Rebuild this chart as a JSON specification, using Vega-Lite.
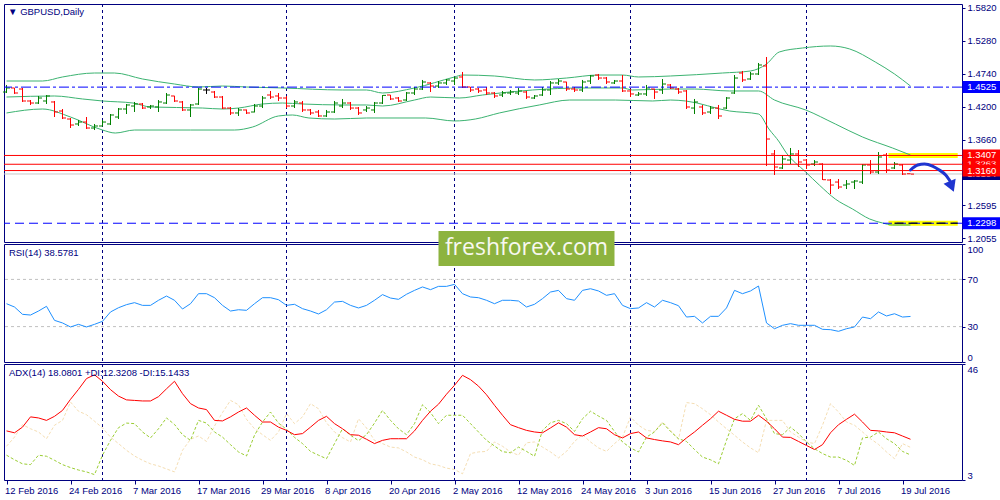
{
  "$schema": "https://vega.github.io/schema/vega-lite/v6.json",
  "description": "GBPUSD daily bars with Bollinger bands, RSI(14) and ADX(14) panels.",
  "background": "#ffffff",
  "padding": {"left": 2, "top": 2, "right": 0, "bottom": 0},
  "bounds": "flush",
  "spacing": 2,
  "config": {
    "font": "Liberation Sans",
    "view": {"stroke": "#000080", "strokeWidth": 1},
    "axis": {"labelFont": "Liberation Sans", "labelFontSize": 9.5, "labelColor": "#000080", "tickColor": "#000080", "domain": false, "grid": false, "labelOverlap": false, "tickCount": 30},
    "axisY": {"tickSize": 3, "labelPadding": 2},
    "axisX": {"tickSize": 4, "labelPadding": 1, "labelAlign": "left", "labelOffset": -2}
  },
  "datasets": {
    "bars": [
      {"i":0,"o":1.4445,"h":1.4560,"l":1.4429,"c":1.4511,"rsi":49.4,"adx":21.2,"pdi":12.2,"mdi":15.5},
      {"i":1,"o":1.4511,"h":1.4515,"l":1.4413,"c":1.4429,"rsi":46.6,"adx":20.5,"pdi":10.5,"mdi":18.9},
      {"i":2,"o":1.4494,"h":1.4511,"l":1.4282,"c":1.4298,"rsi":40.4,"adx":22.6,"pdi":9.0,"mdi":23.5},
      {"i":3,"o":1.4298,"h":1.4314,"l":1.4233,"c":1.4265,"rsi":39.8,"adx":26.4,"pdi":8.7,"mdi":22.0},
      {"i":4,"o":1.4265,"h":1.4380,"l":1.4249,"c":1.4347,"rsi":43.2,"adx":26.0,"pdi":12.2,"mdi":20.8},
      {"i":5,"o":1.4298,"h":1.4396,"l":1.4249,"c":1.4380,"rsi":47.2,"adx":25.1,"pdi":11.8,"mdi":18.3},
      {"i":6,"o":1.4282,"h":1.4298,"l":1.4036,"c":1.4118,"rsi":35.3,"adx":26.6,"pdi":10.3,"mdi":23.3},
      {"i":7,"o":1.4134,"h":1.4167,"l":1.4003,"c":1.4020,"rsi":33.1,"adx":28.8,"pdi":8.7,"mdi":25.1},
      {"i":8,"o":1.4003,"h":1.4020,"l":1.3856,"c":1.3905,"rsi":29.7,"adx":32.9,"pdi":7.6,"mdi":31.9},
      {"i":9,"o":1.3922,"h":1.3987,"l":1.3889,"c":1.3954,"rsi":31.9,"adx":36.6,"pdi":6.7,"mdi":28.5},
      {"i":10,"o":1.3954,"h":1.4036,"l":1.3840,"c":1.3856,"rsi":29.7,"adx":40.6,"pdi":6.0,"mdi":27.2},
      {"i":11,"o":1.3856,"h":1.3922,"l":1.3823,"c":1.3889,"rsi":31.9,"adx":42.0,"pdi":5.0,"mdi":24.8},
      {"i":12,"o":1.3889,"h":1.3987,"l":1.3880,"c":1.3954,"rsi":34.5,"adx":39.6,"pdi":12.2,"mdi":22.3},
      {"i":13,"o":1.3922,"h":1.4085,"l":1.3905,"c":1.4069,"rsi":42.4,"adx":36.5,"pdi":17.7,"mdi":18.9},
      {"i":14,"o":1.4036,"h":1.4183,"l":1.4003,"c":1.4167,"rsi":46.0,"adx":34.1,"pdi":22.4,"mdi":16.5},
      {"i":15,"o":1.4167,"h":1.4249,"l":1.4085,"c":1.4233,"rsi":48.6,"adx":32.7,"pdi":24.1,"mdi":14.0},
      {"i":16,"o":1.4216,"h":1.4282,"l":1.4118,"c":1.4249,"rsi":50.3,"adx":32.5,"pdi":23.9,"mdi":11.9},
      {"i":17,"o":1.4249,"h":1.4265,"l":1.4167,"c":1.4183,"rsi":48.0,"adx":32.3,"pdi":20.8,"mdi":10.3},
      {"i":18,"o":1.4200,"h":1.4233,"l":1.4167,"c":1.4216,"rsi":48.0,"adx":32.3,"pdi":18.6,"mdi":9.0},
      {"i":19,"o":1.4200,"h":1.4314,"l":1.4118,"c":1.4282,"rsi":52.3,"adx":33.9,"pdi":22.0,"mdi":8.2},
      {"i":20,"o":1.4265,"h":1.4429,"l":1.4249,"c":1.4396,"rsi":55.9,"adx":36.8,"pdi":26.0,"mdi":7.1},
      {"i":21,"o":1.4380,"h":1.4385,"l":1.4282,"c":1.4298,"rsi":52.3,"adx":39.6,"pdi":23.6,"mdi":6.0},
      {"i":22,"o":1.4282,"h":1.4298,"l":1.4134,"c":1.4151,"rsi":44.9,"adx":35.0,"pdi":19.8,"mdi":14.0},
      {"i":23,"o":1.4151,"h":1.4249,"l":1.4036,"c":1.4233,"rsi":49.4,"adx":31.3,"pdi":17.7,"mdi":18.1},
      {"i":24,"o":1.4249,"h":1.4511,"l":1.4233,"c":1.4494,"rsi":57.9,"adx":29.7,"pdi":25.1,"mdi":19.3},
      {"i":25,"o":1.4478,"h":1.4511,"l":1.4413,"c":1.4478,"rsi":57.9,"adx":29.1,"pdi":24.1,"mdi":17.3},
      {"i":26,"o":1.4445,"h":1.4462,"l":1.4347,"c":1.4363,"rsi":54.5,"adx":25.1,"pdi":20.8,"mdi":23.0},
      {"i":27,"o":1.4363,"h":1.4380,"l":1.4167,"c":1.4183,"rsi":48.0,"adx":24.9,"pdi":18.9,"mdi":28.0},
      {"i":28,"o":1.4183,"h":1.4200,"l":1.4069,"c":1.4102,"rsi":43.2,"adx":26.4,"pdi":16.1,"mdi":32.5},
      {"i":29,"o":1.4102,"h":1.4183,"l":1.4053,"c":1.4151,"rsi":44.3,"adx":28.2,"pdi":13.4,"mdi":30.9},
      {"i":30,"o":1.4151,"h":1.4160,"l":1.4085,"c":1.4102,"rsi":43.8,"adx":29.7,"pdi":11.9,"mdi":25.5},
      {"i":31,"o":1.4118,"h":1.4249,"l":1.4110,"c":1.4216,"rsi":49.4,"adx":27.0,"pdi":19.6,"mdi":22.0},
      {"i":32,"o":1.4216,"h":1.4380,"l":1.4183,"c":1.4347,"rsi":54.5,"adx":24.5,"pdi":24.5,"mdi":19.8},
      {"i":33,"o":1.4396,"h":1.4462,"l":1.4331,"c":1.4363,"rsi":54.5,"adx":24.5,"pdi":28.2,"mdi":17.7},
      {"i":34,"o":1.4380,"h":1.4429,"l":1.4298,"c":1.4347,"rsi":52.8,"adx":22.6,"pdi":24.1,"mdi":20.8},
      {"i":35,"o":1.4347,"h":1.4380,"l":1.4183,"c":1.4216,"rsi":48.0,"adx":21.4,"pdi":21.8,"mdi":27.6},
      {"i":36,"o":1.4216,"h":1.4314,"l":1.4183,"c":1.4282,"rsi":48.9,"adx":19.8,"pdi":18.8,"mdi":23.9},
      {"i":37,"o":1.4265,"h":1.4298,"l":1.4118,"c":1.4151,"rsi":45.2,"adx":20.2,"pdi":16.5,"mdi":26.4},
      {"i":38,"o":1.4151,"h":1.4167,"l":1.4069,"c":1.4102,"rsi":43.2,"adx":22.6,"pdi":13.6,"mdi":31.3},
      {"i":39,"o":1.4118,"h":1.4151,"l":1.4036,"c":1.4053,"rsi":40.7,"adx":25.1,"pdi":12.2,"mdi":29.4},
      {"i":40,"o":1.4053,"h":1.4151,"l":1.4036,"c":1.4118,"rsi":44.3,"adx":26.6,"pdi":10.9,"mdi":24.2},
      {"i":41,"o":1.4118,"h":1.4298,"l":1.4102,"c":1.4265,"rsi":50.8,"adx":23.9,"pdi":16.5,"mdi":20.8},
      {"i":42,"o":1.4216,"h":1.4331,"l":1.4183,"c":1.4265,"rsi":51.4,"adx":22.0,"pdi":22.0,"mdi":18.7},
      {"i":43,"o":1.4265,"h":1.4282,"l":1.4151,"c":1.4183,"rsi":48.0,"adx":19.8,"pdi":19.6,"mdi":17.1},
      {"i":44,"o":1.4183,"h":1.4200,"l":1.4069,"c":1.4102,"rsi":45.8,"adx":19.6,"pdi":17.6,"mdi":25.7},
      {"i":45,"o":1.4151,"h":1.4216,"l":1.4118,"c":1.4183,"rsi":48.0,"adx":18.1,"pdi":19.8,"mdi":22.3},
      {"i":46,"o":1.4151,"h":1.4282,"l":1.4102,"c":1.4265,"rsi":52.3,"adx":16.5,"pdi":24.1,"mdi":17.7},
      {"i":47,"o":1.4265,"h":1.4396,"l":1.4249,"c":1.4390,"rsi":57.1,"adx":17.7,"pdi":28.8,"mdi":16.5},
      {"i":48,"o":1.4396,"h":1.4400,"l":1.4314,"c":1.4331,"rsi":54.2,"adx":18.3,"pdi":25.1,"mdi":15.2},
      {"i":49,"o":1.4347,"h":1.4363,"l":1.4282,"c":1.4298,"rsi":53.1,"adx":18.3,"pdi":22.0,"mdi":14.9},
      {"i":50,"o":1.4314,"h":1.4445,"l":1.4298,"c":1.4429,"rsi":57.4,"adx":18.3,"pdi":19.8,"mdi":13.4},
      {"i":51,"o":1.4429,"h":1.4527,"l":1.4396,"c":1.4494,"rsi":60.7,"adx":21.2,"pdi":23.9,"mdi":11.5},
      {"i":52,"o":1.4494,"h":1.4642,"l":1.4478,"c":1.4609,"rsi":63.6,"adx":25.1,"pdi":30.9,"mdi":10.5},
      {"i":53,"o":1.4593,"h":1.4609,"l":1.4445,"c":1.4543,"rsi":61.3,"adx":28.5,"pdi":28.0,"mdi":9.0},
      {"i":54,"o":1.4543,"h":1.4625,"l":1.4511,"c":1.4593,"rsi":64.1,"adx":31.1,"pdi":23.9,"mdi":8.4},
      {"i":55,"o":1.4593,"h":1.4658,"l":1.4560,"c":1.4642,"rsi":64.1,"adx":34.8,"pdi":27.0,"mdi":7.4},
      {"i":56,"o":1.4625,"h":1.4691,"l":1.4560,"c":1.4674,"rsi":65.8,"adx":38.1,"pdi":27.0,"mdi":6.9},
      {"i":57,"o":1.4691,"h":1.4773,"l":1.4511,"c":1.4527,"rsi":57.9,"adx":41.8,"pdi":27.0,"mdi":5.3},
      {"i":58,"o":1.4527,"h":1.4530,"l":1.4445,"c":1.4478,"rsi":55.1,"adx":40.2,"pdi":23.9,"mdi":12.8},
      {"i":59,"o":1.4494,"h":1.4511,"l":1.4429,"c":1.4462,"rsi":54.5,"adx":37.8,"pdi":20.8,"mdi":13.4},
      {"i":60,"o":1.4478,"h":1.4527,"l":1.4396,"c":1.4429,"rsi":52.3,"adx":34.6,"pdi":17.7,"mdi":13.6},
      {"i":61,"o":1.4429,"h":1.4445,"l":1.4347,"c":1.4380,"rsi":49.4,"adx":30.7,"pdi":15.6,"mdi":17.1},
      {"i":62,"o":1.4396,"h":1.4462,"l":1.4363,"c":1.4429,"rsi":52.3,"adx":27.0,"pdi":13.5,"mdi":15.5},
      {"i":63,"o":1.4429,"h":1.4478,"l":1.4396,"c":1.4445,"rsi":52.3,"adx":23.5,"pdi":13.1,"mdi":13.4},
      {"i":64,"o":1.4429,"h":1.4511,"l":1.4396,"c":1.4462,"rsi":51.7,"adx":22.4,"pdi":15.2,"mdi":12.2},
      {"i":65,"o":1.4445,"h":1.4462,"l":1.4331,"c":1.4363,"rsi":46.6,"adx":21.4,"pdi":13.6,"mdi":16.8},
      {"i":66,"o":1.4347,"h":1.4396,"l":1.4331,"c":1.4380,"rsi":48.9,"adx":20.8,"pdi":11.8,"mdi":17.1},
      {"i":67,"o":1.4396,"h":1.4527,"l":1.4380,"c":1.4478,"rsi":53.7,"adx":20.5,"pdi":21.4,"mdi":15.2},
      {"i":68,"o":1.4478,"h":1.4625,"l":1.4396,"c":1.4593,"rsi":59.3,"adx":22.3,"pdi":24.2,"mdi":13.4},
      {"i":69,"o":1.4593,"h":1.4658,"l":1.4560,"c":1.4625,"rsi":60.7,"adx":24.2,"pdi":25.1,"mdi":11.2},
      {"i":70,"o":1.4609,"h":1.4615,"l":1.4462,"c":1.4494,"rsi":53.7,"adx":22.6,"pdi":23.9,"mdi":13.6},
      {"i":71,"o":1.4494,"h":1.4527,"l":1.4445,"c":1.4478,"rsi":52.3,"adx":19.8,"pdi":21.0,"mdi":17.3},
      {"i":72,"o":1.4478,"h":1.4642,"l":1.4445,"c":1.4609,"rsi":60.7,"adx":19.3,"pdi":25.7,"mdi":19.8},
      {"i":73,"o":1.4625,"h":1.4723,"l":1.4576,"c":1.4707,"rsi":62.1,"adx":20.8,"pdi":28.5,"mdi":17.1},
      {"i":74,"o":1.4723,"h":1.4740,"l":1.4642,"c":1.4674,"rsi":60.2,"adx":22.4,"pdi":26.7,"mdi":14.9},
      {"i":75,"o":1.4674,"h":1.4691,"l":1.4576,"c":1.4609,"rsi":56.5,"adx":22.0,"pdi":25.1,"mdi":13.6},
      {"i":76,"o":1.4593,"h":1.4642,"l":1.4576,"c":1.4625,"rsi":57.9,"adx":19.8,"pdi":21.0,"mdi":16.5},
      {"i":77,"o":1.4625,"h":1.4723,"l":1.4445,"c":1.4462,"rsi":48.0,"adx":18.6,"pdi":17.1,"mdi":18.9},
      {"i":78,"o":1.4462,"h":1.4494,"l":1.4363,"c":1.4413,"rsi":45.2,"adx":20.2,"pdi":14.9,"mdi":26.4},
      {"i":79,"o":1.4396,"h":1.4445,"l":1.4380,"c":1.4413,"rsi":45.8,"adx":20.8,"pdi":13.4,"mdi":23.3},
      {"i":80,"o":1.4413,"h":1.4560,"l":1.4380,"c":1.4511,"rsi":50.3,"adx":18.6,"pdi":18.9,"mdi":21.4},
      {"i":81,"o":1.4494,"h":1.4500,"l":1.4331,"c":1.4445,"rsi":46.6,"adx":18.0,"pdi":20.8,"mdi":21.0},
      {"i":82,"o":1.4478,"h":1.4658,"l":1.4413,"c":1.4576,"rsi":52.3,"adx":17.5,"pdi":24.2,"mdi":24.5},
      {"i":83,"o":1.4560,"h":1.4576,"l":1.4494,"c":1.4511,"rsi":50.3,"adx":17.1,"pdi":21.0,"mdi":21.4},
      {"i":84,"o":1.4494,"h":1.4511,"l":1.4413,"c":1.4445,"rsi":47.7,"adx":16.1,"pdi":18.3,"mdi":18.1},
      {"i":85,"o":1.4462,"h":1.4478,"l":1.4167,"c":1.4200,"rsi":38.1,"adx":18.6,"pdi":17.3,"mdi":31.7},
      {"i":86,"o":1.4183,"h":1.4331,"l":1.4085,"c":1.4282,"rsi":38.7,"adx":20.8,"pdi":14.3,"mdi":31.3},
      {"i":87,"o":1.4200,"h":1.4233,"l":1.4069,"c":1.4102,"rsi":33.1,"adx":23.3,"pdi":11.5,"mdi":29.4},
      {"i":88,"o":1.4118,"h":1.4216,"l":1.4085,"c":1.4183,"rsi":38.7,"adx":25.7,"pdi":10.5,"mdi":27.2},
      {"i":89,"o":1.4183,"h":1.4233,"l":1.4003,"c":1.4053,"rsi":38.7,"adx":28.5,"pdi":9.0,"mdi":24.5},
      {"i":90,"o":1.4183,"h":1.4363,"l":1.4167,"c":1.4347,"rsi":45.8,"adx":27.0,"pdi":17.7,"mdi":22.0},
      {"i":91,"o":1.4429,"h":1.4723,"l":1.4413,"c":1.4674,"rsi":60.7,"adx":25.5,"pdi":25.7,"mdi":19.6},
      {"i":92,"o":1.4756,"h":1.4789,"l":1.4609,"c":1.4642,"rsi":57.9,"adx":24.8,"pdi":27.6,"mdi":17.1},
      {"i":93,"o":1.4658,"h":1.4773,"l":1.4642,"c":1.4740,"rsi":60.2,"adx":24.8,"pdi":25.1,"mdi":14.9},
      {"i":94,"o":1.4740,"h":1.4920,"l":1.4723,"c":1.4887,"rsi":64.4,"adx":27.0,"pdi":30.7,"mdi":13.1},
      {"i":95,"o":1.4871,"h":1.5018,"l":1.3234,"c":1.3676,"rsi":33.1,"adx":24.8,"pdi":25.7,"mdi":25.1},
      {"i":96,"o":1.3431,"h":1.3496,"l":1.3087,"c":1.3218,"rsi":28.2,"adx":22.0,"pdi":20.2,"mdi":25.1},
      {"i":97,"o":1.3202,"h":1.3414,"l":1.3185,"c":1.3349,"rsi":31.1,"adx":18.9,"pdi":19.8,"mdi":25.1},
      {"i":98,"o":1.3332,"h":1.3529,"l":1.3267,"c":1.3431,"rsi":32.5,"adx":18.8,"pdi":22.6,"mdi":20.8},
      {"i":99,"o":1.3431,"h":1.3496,"l":1.3218,"c":1.3300,"rsi":31.1,"adx":17.3,"pdi":20.2,"mdi":18.9},
      {"i":100,"o":1.3332,"h":1.3349,"l":1.3185,"c":1.3251,"rsi":31.1,"adx":15.8,"pdi":17.1,"mdi":17.1},
      {"i":101,"o":1.3267,"h":1.3332,"l":1.3234,"c":1.3300,"rsi":31.1,"adx":14.3,"pdi":14.6,"mdi":16.5},
      {"i":102,"o":1.3267,"h":1.3280,"l":1.3005,"c":1.3010,"rsi":27.7,"adx":16.1,"pdi":12.8,"mdi":23.3},
      {"i":103,"o":1.3005,"h":1.3022,"l":1.2776,"c":1.2923,"rsi":27.4,"adx":20.5,"pdi":11.5,"mdi":31.3},
      {"i":104,"o":1.2972,"h":1.3022,"l":1.2858,"c":1.2891,"rsi":26.0,"adx":23.5,"pdi":11.5,"mdi":28.2},
      {"i":105,"o":1.2923,"h":1.3005,"l":1.2858,"c":1.2940,"rsi":28.2,"adx":25.5,"pdi":10.3,"mdi":24.5},
      {"i":106,"o":1.2972,"h":1.3005,"l":1.2858,"c":1.2989,"rsi":29.7,"adx":27.4,"pdi":8.4,"mdi":23.3},
      {"i":107,"o":1.2972,"h":1.3267,"l":1.2940,"c":1.3251,"rsi":38.1,"adx":24.5,"pdi":18.6,"mdi":20.8},
      {"i":108,"o":1.3251,"h":1.3332,"l":1.3103,"c":1.3136,"rsi":36.7,"adx":21.4,"pdi":18.9,"mdi":18.3},
      {"i":109,"o":1.3136,"h":1.3463,"l":1.3103,"c":1.3382,"rsi":42.4,"adx":21.2,"pdi":20.8,"mdi":16.2},
      {"i":110,"o":1.3414,"h":1.3447,"l":1.3120,"c":1.3169,"rsi":39.0,"adx":20.8,"pdi":18.3,"mdi":13.4},
      {"i":111,"o":1.3202,"h":1.3300,"l":1.3185,"c":1.3267,"rsi":40.9,"adx":20.5,"pdi":16.5,"mdi":10.9},
      {"i":112,"o":1.3251,"h":1.3267,"l":1.3087,"c":1.3103,"rsi":38.1,"adx":19.3,"pdi":13.6,"mdi":16.5},
      {"i":113,"o":1.3108,"h":1.3112,"l":1.3100,"c":1.3102,"rsi":38.6,"adx":18.1,"pdi":12.3,"mdi":15.1}
    ],
    "bands": [
      {"band":"upper","i":0,"p":1.4625},{"band":"upper","i":4.5,"p":1.4625},{"band":"upper","i":7,"p":1.4691},{"band":"upper","i":11,"p":1.4756},{"band":"upper","i":13.5,"p":1.4756},{"band":"upper","i":17,"p":1.4658},{"band":"upper","i":21,"p":1.4576},{"band":"upper","i":24,"p":1.4527},{"band":"upper","i":27,"p":1.4543},{"band":"upper","i":30,"p":1.4527},{"band":"upper","i":34.5,"p":1.4511},{"band":"upper","i":42,"p":1.4478},{"band":"upper","i":45,"p":1.4478},{"band":"upper","i":47,"p":1.4429},{"band":"upper","i":51,"p":1.4511},{"band":"upper","i":56,"p":1.4691},{"band":"upper","i":57,"p":1.4723},{"band":"upper","i":61,"p":1.4707},{"band":"upper","i":66,"p":1.4642},{"band":"upper","i":70,"p":1.4674},{"band":"upper","i":74,"p":1.4723},{"band":"upper","i":77,"p":1.4723},{"band":"upper","i":79,"p":1.4691},{"band":"upper","i":83,"p":1.4707},{"band":"upper","i":89.5,"p":1.4756},{"band":"upper","i":93,"p":1.4789},{"band":"upper","i":95,"p":1.4903},{"band":"upper","i":96.6,"p":1.5100},{"band":"upper","i":99.5,"p":1.5165},{"band":"upper","i":103,"p":1.5198},{"band":"upper","i":105.4,"p":1.5149},{"band":"upper","i":108.6,"p":1.4936},{"band":"upper","i":111,"p":1.4740},{"band":"upper","i":113,"p":1.4543},
      {"band":"middle","i":0,"p":1.4363},{"band":"middle","i":6,"p":1.4380},{"band":"middle","i":9.5,"p":1.4331},{"band":"middle","i":12,"p":1.4298},{"band":"middle","i":15.8,"p":1.4265},{"band":"middle","i":18,"p":1.4200},{"band":"middle","i":24.5,"p":1.4183},{"band":"middle","i":27,"p":1.4167},{"band":"middle","i":29,"p":1.4183},{"band":"middle","i":32,"p":1.4249},{"band":"middle","i":34.5,"p":1.4265},{"band":"middle","i":37,"p":1.4249},{"band":"middle","i":42,"p":1.4233},{"band":"middle","i":45,"p":1.4233},{"band":"middle","i":47,"p":1.4216},{"band":"middle","i":51,"p":1.4314},{"band":"middle","i":53,"p":1.4363},{"band":"middle","i":56.6,"p":1.4347},{"band":"middle","i":59.5,"p":1.4396},{"band":"middle","i":65.75,"p":1.4478},{"band":"middle","i":72,"p":1.4511},{"band":"middle","i":77,"p":1.4511},{"band":"middle","i":78.25,"p":1.4478},{"band":"middle","i":83,"p":1.4494},{"band":"middle","i":86,"p":1.4494},{"band":"middle","i":90.4,"p":1.4462},{"band":"middle","i":94,"p":1.4462},{"band":"middle","i":96,"p":1.4314},{"band":"middle","i":99.9,"p":1.4151},{"band":"middle","i":103.6,"p":1.3922},{"band":"middle","i":107,"p":1.3709},{"band":"middle","i":110.75,"p":1.3529},{"band":"middle","i":113,"p":1.3414},
      {"band":"lower","i":0,"p":1.4102},{"band":"lower","i":4.5,"p":1.4167},{"band":"lower","i":8,"p":1.4036},{"band":"lower","i":12,"p":1.3823},{"band":"lower","i":13.6,"p":1.3774},{"band":"lower","i":16,"p":1.3823},{"band":"lower","i":23,"p":1.3823},{"band":"lower","i":28.5,"p":1.3823},{"band":"lower","i":30.75,"p":1.3872},{"band":"lower","i":34,"p":1.4053},{"band":"lower","i":35.75,"p":1.4069},{"band":"lower","i":37.8,"p":1.4020},{"band":"lower","i":41,"p":1.4003},{"band":"lower","i":45,"p":1.4020},{"band":"lower","i":52.4,"p":1.4020},{"band":"lower","i":56,"p":1.3971},{"band":"lower","i":58.6,"p":1.4003},{"band":"lower","i":61.6,"p":1.4102},{"band":"lower","i":66.6,"p":1.4233},{"band":"lower","i":70.4,"p":1.4314},{"band":"lower","i":76.1,"p":1.4314},{"band":"lower","i":80.75,"p":1.4298},{"band":"lower","i":83,"p":1.4314},{"band":"lower","i":84.9,"p":1.4298},{"band":"lower","i":90.4,"p":1.4134},{"band":"lower","i":94,"p":1.4085},{"band":"lower","i":95.3,"p":1.3840},{"band":"lower","i":96.6,"p":1.3627},{"band":"lower","i":97.4,"p":1.3463},{"band":"lower","i":99.9,"p":1.3136},{"band":"lower","i":101.6,"p":1.2923},{"band":"lower","i":103.6,"p":1.2694},{"band":"lower","i":105.75,"p":1.2531},{"band":"lower","i":107.9,"p":1.2367},{"band":"lower","i":109.5,"p":1.2302},{"band":"lower","i":110.75,"p":1.2269},{"band":"lower","i":113,"p":1.2269}
    ],
    "grid": [{"i":12},{"i":35},{"i":56},{"i":78},{"i":100}],
    "tags": [
      {"p":1.3104,"k":"bid"},
      {"p":1.3263,"k":"level"},
      {"p":1.3407,"k":"level"},
      {"p":1.3160,"k":"level"},
      {"p":1.4525,"k":"line"},
      {"p":1.2298,"k":"line"}
    ]
  },
  "vconcat": [
    {
      "width": 958,
      "height": 238,
      "layer": [
        {
          "data": {"name": "grid"},
          "mark": {"type": "rule", "color": "#000080", "strokeDash": [3, 3], "strokeWidth": 1},
          "encoding": {"x": {"field": "i", "type": "quantitative", "scale": {"domain": [-0.3125, 119.4375], "nice": false, "zero": false}, "axis": null}}
        },
        {
          "data": {"values": [{"p": 1.3407, "from": 110.25, "to": 118.9}, {"p": 1.2298, "from": 110.25, "to": 118.9}]},
          "mark": {"type": "rule", "color": "#FFFF00", "strokeWidth": 5},
          "encoding": {
            "x": {"field": "from", "type": "quantitative", "scale": {"domain": [-0.3125, 119.4375], "nice": false, "zero": false}, "axis": null},
            "x2": {"field": "to"},
            "y": {
              "field": "p", "type": "quantitative",
              "scale": {"domain": [1.1991, 1.5885], "nice": false, "zero": false},
              "axis": {"orient": "right", "title": null, "labelOverlap": false, "tickCount": 30, "values": [1.582, 1.528, 1.474, 1.42, 1.366, 1.2595, 1.2055], "format": ".4f"}
            }
          }
        },
        {
          "data": {"values": [{"p": 1.3104}]},
          "mark": {"type": "rule", "color": "#C8C8C8", "strokeWidth": 1},
          "encoding": {"y": {"field": "p", "type": "quantitative", "scale": {"domain": [1.1991, 1.5885], "nice": false, "zero": false}}}
        },
        {
          "data": {"name": "bands"},
          "mark": {"type": "line", "color": "#3CB371", "strokeWidth": 1, "interpolate": "monotone"},
          "encoding": {
            "x": {"field": "i", "type": "quantitative", "scale": {"domain": [-0.3125, 119.4375], "nice": false, "zero": false}, "axis": null},
            "y": {"field": "p", "type": "quantitative", "scale": {"domain": [1.1991, 1.5885], "nice": false, "zero": false}},
            "detail": {"field": "band"}
          }
        },
        {
          "data": {"name": "bars"},
          "mark": {"type": "rule", "strokeWidth": 1},
          "encoding": {
            "x": {"field": "i", "type": "quantitative", "scale": {"domain": [-0.3125, 119.4375], "nice": false, "zero": false}, "axis": null},
            "y": {"field": "h", "type": "quantitative", "scale": {"domain": [1.1991, 1.5885], "nice": false, "zero": false}},
            "y2": {"field": "l"},
            "color": {"condition": [{"test": "datum.c == datum.o", "value": "#000000"}, {"test": "datum.c > datum.o", "value": "#008000"}], "value": "#FF0000"}
          }
        },
        {
          "data": {"name": "bars"},
          "mark": {"type": "tick", "orient": "horizontal", "size": 3, "thickness": 1, "xOffset": -2, "opacity": 1},
          "encoding": {
            "x": {"field": "i", "type": "quantitative", "scale": {"domain": [-0.3125, 119.4375], "nice": false, "zero": false}, "axis": null},
            "y": {"field": "o", "type": "quantitative", "scale": {"domain": [1.1991, 1.5885], "nice": false, "zero": false}},
            "color": {"condition": [{"test": "datum.c == datum.o", "value": "#000000"}, {"test": "datum.c > datum.o", "value": "#008000"}], "value": "#FF0000"}
          }
        },
        {
          "data": {"name": "bars"},
          "mark": {"type": "tick", "orient": "horizontal", "size": 3, "thickness": 1, "xOffset": 2, "opacity": 1},
          "encoding": {
            "x": {"field": "i", "type": "quantitative", "scale": {"domain": [-0.3125, 119.4375], "nice": false, "zero": false}, "axis": null},
            "y": {"field": "c", "type": "quantitative", "scale": {"domain": [1.1991, 1.5885], "nice": false, "zero": false}},
            "color": {"condition": [{"test": "datum.c == datum.o", "value": "#000000"}, {"test": "datum.c > datum.o", "value": "#008000"}], "value": "#FF0000"}
          }
        },
        {
          "data": {"values": [{"p": 1.3407}, {"p": 1.3263}, {"p": 1.3160}]},
          "mark": {"type": "rule", "color": "#FF0000", "strokeWidth": 1},
          "encoding": {"y": {"field": "p", "type": "quantitative", "scale": {"domain": [1.1991, 1.5885], "nice": false, "zero": false}}}
        },
        {
          "data": {"values": [{"p": 1.4525}]},
          "mark": {"type": "rule", "color": "#0000FF", "strokeWidth": 1, "strokeDash": [10, 3, 3, 3]},
          "encoding": {"y": {"field": "p", "type": "quantitative", "scale": {"domain": [1.1991, 1.5885], "nice": false, "zero": false}}}
        },
        {
          "data": {"values": [{"p": 1.2298}]},
          "mark": {"type": "rule", "color": "#0000FF", "strokeWidth": 1, "strokeDash": [9, 5]},
          "encoding": {"y": {"field": "p", "type": "quantitative", "scale": {"domain": [1.1991, 1.5885], "nice": false, "zero": false}}}
        },
        {
          "data": {"values": [{"p": 1.2298, "from": 111, "to": 118.9}]},
          "mark": {"type": "rule", "color": "#101030", "strokeWidth": 1.5, "strokeDash": [9, 5]},
          "encoding": {
            "x": {"field": "from", "type": "quantitative", "scale": {"domain": [-0.3125, 119.4375], "nice": false, "zero": false}, "axis": null},
            "x2": {"field": "to"},
            "y": {"field": "p", "type": "quantitative", "scale": {"domain": [1.1991, 1.5885], "nice": false, "zero": false}}
          }
        },
        {
          "data": {"values": [
            {"i": 113, "p": 1.3169}, {"i": 113.9, "p": 1.3251}, {"i": 114.75, "p": 1.3267}, {"i": 115.75, "p": 1.3234},
            {"i": 116.6, "p": 1.3169}, {"i": 117.4, "p": 1.3087}, {"i": 118.1, "p": 1.2956}
          ]},
          "mark": {"type": "line", "color": "#1F35D0", "strokeWidth": 3, "interpolate": "monotone", "strokeCap": "round"},
          "encoding": {
            "x": {"field": "i", "type": "quantitative", "scale": {"domain": [-0.3125, 119.4375], "nice": false, "zero": false}, "axis": null},
            "y": {"field": "p", "type": "quantitative", "scale": {"domain": [1.1991, 1.5885], "nice": false, "zero": false}}
          }
        },
        {
          "data": {"values": [{"i": 118.15, "p": 1.2900}]},
          "mark": {"type": "point", "shape": "triangle-down", "filled": true, "size": 170, "angle": 338, "opacity": 1, "color": "#1F35D0"},
          "encoding": {
            "x": {"field": "i", "type": "quantitative", "scale": {"domain": [-0.3125, 119.4375], "nice": false, "zero": false}, "axis": null},
            "y": {"field": "p", "type": "quantitative", "scale": {"domain": [1.1991, 1.5885], "nice": false, "zero": false}}
          }
        },
        {
          "data": {"name": "tags"},
          "transform": [{"filter": {"field": "p", "oneOf": [1.3104, 1.3263]}}],
          "mark": {"type": "tick", "orient": "horizontal", "size": 38, "thickness": 12, "opacity": 1},
          "encoding": {
            "x": {"datum": 121.875, "type": "quantitative", "scale": {"domain": [-0.3125, 119.4375], "nice": false, "zero": false}, "axis": null},
            "y": {"field": "p", "type": "quantitative", "scale": {"domain": [1.1991, 1.5885], "nice": false, "zero": false}},
            "color": {"field": "k", "type": "nominal", "scale": {"domain": ["bid", "level", "line"], "range": ["#000080", "#FF0000", "#0000FF"]}, "legend": null}
          }
        },
        {
          "data": {"name": "tags"},
          "transform": [{"filter": {"field": "p", "oneOf": [1.3104, 1.3263]}}],
          "mark": {"type": "text", "align": "left", "baseline": "middle", "color": "#FFFFFF", "fontSize": 9.5},
          "encoding": {
            "x": {"datum": 120.1, "type": "quantitative", "scale": {"domain": [-0.3125, 119.4375], "nice": false, "zero": false}, "axis": null},
            "y": {"field": "p", "type": "quantitative", "scale": {"domain": [1.1991, 1.5885], "nice": false, "zero": false}},
            "text": {"field": "p", "type": "quantitative", "format": ".4f"}
          }
        },
        {
          "data": {"name": "tags"},
          "transform": [{"filter": {"not": {"field": "p", "oneOf": [1.3104, 1.3263]}}}],
          "mark": {"type": "tick", "orient": "horizontal", "size": 38, "thickness": 12, "opacity": 1},
          "encoding": {
            "x": {"datum": 121.875, "type": "quantitative", "scale": {"domain": [-0.3125, 119.4375], "nice": false, "zero": false}, "axis": null},
            "y": {"field": "p", "type": "quantitative", "scale": {"domain": [1.1991, 1.5885], "nice": false, "zero": false}},
            "color": {"field": "k", "type": "nominal", "scale": {"domain": ["bid", "level", "line"], "range": ["#000080", "#FF0000", "#0000FF"]}, "legend": null}
          }
        },
        {
          "data": {"name": "tags"},
          "transform": [{"filter": {"not": {"field": "p", "oneOf": [1.3104, 1.3263]}}}],
          "mark": {"type": "text", "align": "left", "baseline": "middle", "color": "#FFFFFF", "fontSize": 9.5},
          "encoding": {
            "x": {"datum": 120.1, "type": "quantitative", "scale": {"domain": [-0.3125, 119.4375], "nice": false, "zero": false}, "axis": null},
            "y": {"field": "p", "type": "quantitative", "scale": {"domain": [1.1991, 1.5885], "nice": false, "zero": false}},
            "text": {"field": "p", "type": "quantitative", "format": ".4f"}
          }
        },
        {
          "data": {"values": [{"label": "▼ GBPUSD,Daily"}]},
          "mark": {"type": "text", "align": "left", "baseline": "middle", "dy": 8, "color": "#000080", "fontSize": 9.5},
          "encoding": {
            "x": {"datum": 0.2, "type": "quantitative", "scale": {"domain": [-0.3125, 119.4375], "nice": false, "zero": false}, "axis": null},
            "y": {"datum": 1.5885, "type": "quantitative", "scale": {"domain": [1.1991, 1.5885], "nice": false, "zero": false}},
            "text": {"field": "label"}
          }
        }
      ]
    },
    {
      "width": 958,
      "height": 118,
      "layer": [
        {
          "data": {"name": "grid"},
          "mark": {"type": "rule", "color": "#000080", "strokeDash": [3, 3], "strokeWidth": 1},
          "encoding": {"x": {"field": "i", "type": "quantitative", "scale": {"domain": [-0.3125, 119.4375], "nice": false, "zero": false}, "axis": null}}
        },
        {
          "data": {"values": [{"level": 30}, {"level": 70}]},
          "mark": {"type": "rule", "color": "#C0C0C0", "strokeDash": [3, 3], "strokeWidth": 1},
          "encoding": {
            "y": {
              "field": "level", "type": "quantitative",
              "scale": {"domain": [0, 100], "nice": false, "zero": false},
              "axis": {"orient": "right", "title": null, "labelOverlap": false, "tickCount": 30, "values": [0, 30, 70, 100], "labelFlush": true}
            }
          }
        },
        {
          "data": {"name": "bars"},
          "mark": {"type": "line", "color": "#1E90FF", "strokeWidth": 1},
          "encoding": {
            "x": {"field": "i", "type": "quantitative", "scale": {"domain": [-0.3125, 119.4375], "nice": false, "zero": false}, "axis": null},
            "y": {"field": "rsi", "type": "quantitative", "scale": {"domain": [0, 100], "nice": false, "zero": false}}
          }
        },
        {
          "data": {"values": [{"label": "RSI(14) 38.5781"}]},
          "mark": {"type": "text", "align": "left", "baseline": "middle", "dy": 9, "color": "#000080", "fontSize": 9.5},
          "encoding": {
            "x": {"datum": 0.3, "type": "quantitative", "scale": {"domain": [-0.3125, 119.4375], "nice": false, "zero": false}, "axis": null},
            "y": {"datum": 100, "type": "quantitative", "scale": {"domain": [0, 100], "nice": false, "zero": false}},
            "text": {"field": "label"}
          }
        },
        {
          "data": {"values": [{"site": "freshforex.com"}]},
          "mark": {"type": "rect", "color": "#8DB33F"},
          "encoding": {
            "x": {"datum": 54, "type": "quantitative", "scale": {"domain": [-0.3125, 119.4375], "nice": false, "zero": false}, "axis": null},
            "x2": {"datum": 76},
            "y": {"datum": 81.4, "type": "quantitative", "scale": {"domain": [0, 100], "nice": false, "zero": false}},
            "y2": {"datum": 111}
          }
        },
        {
          "data": {"values": [{"site": "freshforex.com"}]},
          "mark": {"type": "text", "font": "Open Sans", "fontSize": 23, "color": "#F8F8F0", "align": "center", "baseline": "middle"},
          "encoding": {
            "x": {"datum": 65, "type": "quantitative", "scale": {"domain": [-0.3125, 119.4375], "nice": false, "zero": false}, "axis": null},
            "y": {"datum": 96.5, "type": "quantitative", "scale": {"domain": [0, 100], "nice": false, "zero": false}},
            "text": {"field": "site"}
          }
        }
      ]
    },
    {
      "width": 958,
      "height": 116,
      "layer": [
        {
          "data": {"name": "grid"},
          "mark": {"type": "rule", "color": "#000080", "strokeDash": [3, 3], "strokeWidth": 1},
          "encoding": {
            "x": {
              "field": "i", "type": "quantitative",
              "scale": {"domain": [-0.3125, 119.4375], "nice": false, "zero": false},
              "axis": {
                "orient": "bottom", "title": null, "labelOverlap": false, "tickCount": 30,
                "values": [0, 8, 16, 24, 32, 40, 48, 56, 64, 72, 80, 88, 96, 104, 112],
                "labelExpr": "['12 Feb 2016','24 Feb 2016','7 Mar 2016','17 Mar 2016','29 Mar 2016','8 Apr 2016','20 Apr 2016','2 May 2016','12 May 2016','24 May 2016','3 Jun 2016','15 Jun 2016','27 Jun 2016','7 Jul 2016','19 Jul 2016'][round(datum.value / 8)]"
              }
            }
          }
        },
        {
          "data": {"name": "bars"},
          "mark": {"type": "line", "color": "#F5DEB3", "strokeWidth": 1, "strokeDash": [3, 2]},
          "encoding": {
            "x": {"field": "i", "type": "quantitative"},
            "y": {
              "field": "mdi", "type": "quantitative",
              "scale": {"domain": [3, 46], "nice": false, "zero": false},
              "axis": {"orient": "right", "title": null, "labelOverlap": false, "tickCount": 30, "values": [3, 46], "labelFlush": true}
            }
          }
        },
        {
          "data": {"name": "bars"},
          "mark": {"type": "line", "color": "#9ACD32", "strokeWidth": 1, "strokeDash": [3, 2]},
          "encoding": {
            "x": {"field": "i", "type": "quantitative"},
            "y": {"field": "pdi", "type": "quantitative"}
          }
        },
        {
          "data": {"name": "bars"},
          "mark": {"type": "line", "color": "#FF0000", "strokeWidth": 1},
          "encoding": {
            "x": {"field": "i", "type": "quantitative"},
            "y": {"field": "adx", "type": "quantitative"}
          }
        },
        {
          "data": {"values": [{"label": "ADX(14) 18.0801 +DI:12.3208 -DI:15.1433"}]},
          "mark": {"type": "text", "align": "left", "baseline": "middle", "dy": 9, "color": "#000080", "fontSize": 9.5},
          "encoding": {
            "x": {"datum": 0.3, "type": "quantitative"},
            "y": {"datum": 46, "type": "quantitative"},
            "text": {"field": "label"}
          }
        }
      ]
    }
  ]
}
